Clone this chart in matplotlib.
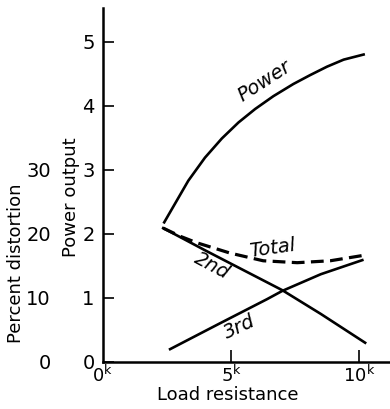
import numpy as np
import matplotlib.pyplot as plt

# curve data (load resistance in kOhm)
load_power = [2.39, 3.33, 3.98, 4.64, 5.29, 5.94, 6.65, 7.43, 8.09, 8.74, 9.39, 10.17]
power = [2.18, 2.83, 3.19, 3.49, 3.74, 3.95, 4.15, 4.34, 4.48, 4.61, 4.72, 4.80]

load_2nd = [2.35, 4.0, 5.5, 7.0, 8.5, 10.23]
dist_2nd = [2.09, 1.74, 1.43, 1.12, 0.75, 0.30]

load_3rd = [2.62, 4.5, 6.4, 7.0, 8.5, 10.12]
dist_3rd = [0.20, 0.59, 0.98, 1.11, 1.37, 1.59]

load_total = [2.35, 3.03, 3.67, 4.96, 6.25, 7.58, 8.87, 10.1]
dist_total = [2.09, 1.96, 1.86, 1.70, 1.58, 1.55, 1.58, 1.66]

x_ticks = [0, 5, 10]
x_labels = [r'0$^{\rm k}$', r'5$^{\rm k}$', r'10$^{\rm k}$']
y_ticks = [0, 1, 2, 3, 4, 5]
pct_ticks = [0, 10, 20, 30]

fig = plt.figure(figsize=(3.9, 4.09), dpi=100)
ax = fig.add_axes([0.264, 0.115, 0.736, 0.866])

lw = 1.9
ax.plot(load_power, power, color='black', lw=lw)
ax.plot(load_2nd, dist_2nd, color='black', lw=lw)
ax.plot(load_3rd, dist_3rd, color='black', lw=lw)
ax.plot(load_total, dist_total, color='black', lw=2.3, ls=(0, (4, 2)))

tk = dict(fontsize=14, fontstyle='italic', ha='center', va='center')
ax.text(6.3, 4.38, 'Power', rotation=33, **tk)
ax.text(6.6, 1.78, 'Total', rotation=8, **tk)
ax.text(4.26, 1.50, '2nd', rotation=-28, **tk)
ax.text(5.31, 0.55, '3rd', rotation=25, **tk)

ax.set_xlim(0, 11.2)
ax.set_ylim(0, 5.53)
ax.set_xticks(x_ticks)
ax.set_xticklabels(x_labels, fontsize=13)
ax.set_yticks(y_ticks)
ax.tick_params(axis='y', labelsize=14, direction='in', length=8, width=1.2, pad=6)
ax.tick_params(axis='x', direction='in', length=9, width=1.2, pad=2)
ax.xaxis.get_ticklines()[0].set_visible(False)

for s in ['top', 'right']:
    ax.spines[s].set_visible(False)
for s in ['left', 'bottom']:
    ax.spines[s].set_linewidth(1.8)

ax.set_xlabel('Load resistance', fontsize=13)
ax.xaxis.set_label_coords(0.435, -0.068)
ax.set_ylabel('Power output', fontsize=13)
ax.yaxis.set_label_coords(-0.08, 0.466)

# percent distortion scale: 10 % per unit of power
sec = ax.secondary_yaxis(-0.167, functions=(lambda y: y * 10, lambda p: p / 10))
sec.set_yticks(pct_ticks)
sec.tick_params(length=0, labelsize=14, pad=3)
sec.spines['left'].set_visible(False)
sec.set_ylabel('Percent distortion', fontsize=13)
sec.yaxis.set_label_coords(-0.272, 0.28, transform=ax.transAxes)

fig.savefig('out.png', dpi=100)
